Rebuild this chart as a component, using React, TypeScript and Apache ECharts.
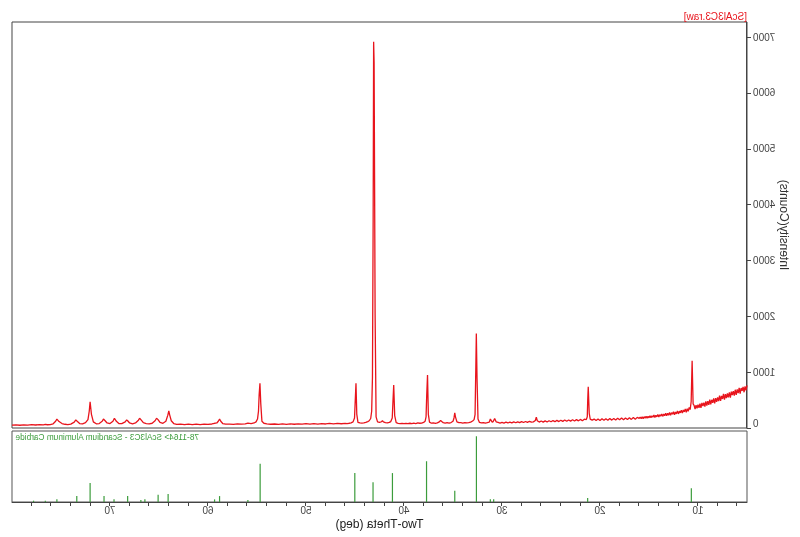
import React, { useEffect, useRef } from "react";
import * as echarts from "echarts";

// ---- measured pattern (2θ in degrees, intensity in counts) ----
const lowAngleStart = 5.0;
const lowAngleStep = 0.1;
const lowAngleCounts = [
  765, 675, 745, 640, 735, 665, 715, 615, 720, 625,
  690, 595, 685, 580, 660, 590, 650, 545, 640, 550,
  620, 535, 605, 510, 610, 520, 575, 485, 580, 480,
  550, 470, 535, 440, 530, 450, 505, 425, 510, 415,
  480, 400, 478, 382, 455, 392, 448, 362, 438, 362,
  418, 352, 410, 340, 405, 430, 1205, 470, 330, 368,
  300, 345, 282, 342, 288, 322, 266, 320, 272, 302,
  252, 307, 253, 288, 238, 292, 246, 274, 230, 277,
  228, 264, 218, 264, 220, 250, 208, 252, 210, 238,
  198, 240, 200, 228, 190, 232, 193, 218, 182, 220,
  183, 210, 174, 212, 176, 202, 168, 202, 168, 194,
  172,
];

const midAngleScan: [number, number][] = [
  [16.2, 190], [16.4, 158], [16.6, 187], [16.8, 154], [17.0, 184], [17.2, 152], [17.4, 180], [17.6, 148],
  [17.8, 178], [18.0, 146], [18.2, 175], [18.4, 144], [18.6, 172], [18.8, 141], [19.0, 170], [19.2, 139],
  [19.4, 167], [19.6, 137], [19.8, 165], [20.0, 135], [20.2, 162], [20.4, 133], [20.6, 160], [20.8, 140],
  [21.0, 160], [21.1, 260], [21.2, 740], [21.25, 520], [21.3, 200], [21.4, 150], [21.6, 157], [21.8, 130],
  [22.0, 154], [22.2, 128], [22.4, 150], [22.6, 125], [22.8, 147], [23.0, 123], [23.2, 144], [23.4, 120],
  [23.6, 142], [23.8, 118], [24.0, 139], [24.2, 115], [24.4, 136], [24.6, 113], [24.8, 133], [25.0, 111],
  [25.2, 130], [25.4, 108], [25.6, 128], [25.8, 106], [26.0, 125], [26.2, 106], [26.4, 130], [26.5, 195],
  [26.6, 135], [26.8, 110], [27.0, 104], [27.2, 120], [27.4, 100], [27.6, 117], [27.8, 98], [28.0, 114],
  [28.2, 96], [28.4, 111], [28.6, 94], [28.8, 109], [29.0, 92], [29.2, 106], [29.4, 90], [29.6, 104],
  [29.8, 89], [30.0, 101], [30.2, 88], [30.4, 99], [30.6, 110], [30.75, 170], [30.9, 115], [31.0, 105],
  [31.19, 160], [31.3, 105], [31.5, 95], [31.7, 88], [31.9, 98], [32.1, 90], [32.3, 100], [32.45, 160],
  [32.55, 900], [32.62, 1690], [32.68, 1000], [32.75, 240], [32.85, 150], [33.0, 125], [33.2, 105], [33.4, 95],
  [33.6, 92], [33.8, 98], [34.0, 88], [34.2, 95], [34.4, 95], [34.6, 110], [34.75, 200], [34.82, 270],
  [34.9, 180], [35.0, 120], [35.2, 98], [35.4, 88], [35.6, 95], [35.8, 86], [36.0, 96], [36.15, 115],
  [36.27, 135], [36.4, 110], [36.6, 92], [36.8, 84], [37.0, 93], [37.2, 86], [37.4, 105], [37.52, 250],
  [37.6, 950], [37.68, 600], [37.75, 200], [37.85, 120], [38.0, 100], [38.2, 88], [38.4, 85], [38.6, 90],
  [38.8, 80], [39.0, 87], [39.2, 78], [39.4, 85], [39.6, 78], [39.8, 84], [40.0, 77], [40.2, 83],
  [40.4, 78], [40.6, 84], [40.8, 95], [40.95, 220], [41.05, 770], [41.12, 500], [41.2, 180], [41.35, 115],
  [41.5, 100], [41.7, 90], [41.9, 96], [42.1, 110], [42.2, 130], [42.3, 112], [42.5, 100], [42.7, 110],
  [42.85, 200], [42.95, 2060], [43.05, 6530], [43.1, 6915], [43.15, 3670], [43.22, 900], [43.3, 300], [43.4, 170],
  [43.55, 130], [43.7, 115], [43.9, 100], [44.1, 90], [44.3, 88], [44.5, 90], [44.7, 100], [44.82, 250],
  [44.9, 800], [44.97, 520], [45.05, 180], [45.2, 110], [45.4, 92], [45.6, 85], [45.8, 80], [46.0, 82],
];

const highAngleScan: [number, number][] = [
  [46.4, 76], [46.8, 83], [47.2, 74], [47.6, 81], [48.0, 72], [48.4, 79], [48.8, 71], [49.2, 78],
  [49.6, 69], [50.0, 77], [50.4, 69], [50.8, 75], [51.2, 67], [51.6, 74], [52.0, 66], [52.4, 73],
  [52.8, 66], [53.2, 72], [53.6, 67], [54.0, 74], [54.3, 85], [54.5, 120], [54.62, 450], [54.7, 800],
  [54.78, 600], [54.85, 300], [54.95, 160], [55.1, 110], [55.3, 90], [55.6, 80], [55.93, 88], [56.2, 75],
  [56.6, 69], [57.0, 74], [57.4, 65], [57.8, 71], [58.2, 68], [58.5, 80], [58.7, 120], [58.82, 160],
  [58.95, 120], [59.1, 90], [59.33, 85], [59.6, 72], [60.0, 65], [60.4, 71], [60.8, 62], [61.2, 69],
  [61.6, 61], [62.0, 68], [62.4, 62], [62.8, 69], [63.2, 66], [63.5, 80], [63.75, 130], [63.92, 240],
  [64.0, 305], [64.1, 230], [64.3, 120], [64.6, 85], [64.9, 100], [65.1, 150], [65.25, 175], [65.4, 130],
  [65.7, 85], [66.0, 75], [66.3, 80], [66.6, 95], [66.85, 150], [66.98, 175], [67.1, 140], [67.4, 90],
  [67.7, 75], [68.0, 90], [68.2, 130], [68.3, 145], [68.45, 110], [68.8, 78], [69.1, 80], [69.35, 120],
  [69.55, 175], [69.7, 120], [70.0, 80], [70.3, 90], [70.5, 130], [70.67, 160], [70.8, 120], [71.1, 80],
  [71.4, 75], [71.7, 110], [71.9, 250], [72.03, 470], [72.12, 300], [72.25, 150], [72.5, 95], [72.8, 75],
  [73.1, 80], [73.35, 120], [73.49, 145], [73.65, 105], [74.0, 70], [74.3, 61], [74.6, 67], [74.9, 80],
  [75.2, 115], [75.42, 160], [75.55, 120], [75.8, 75], [76.1, 61], [76.4, 58], [76.6, 65], [76.8, 56],
  [77.2, 61], [77.6, 54], [78.0, 59], [78.4, 51], [78.8, 57], [79.2, 49], [79.6, 55], [80.0, 50],
];

// ---- reference card 78-1164 (ScAl3C3) stick pattern, relative intensity % ----
const stickTwoTheta = [
  10.68, 21.26, 30.85, 31.19, 32.61, 34.82, 37.7, 41.18, 43.16, 45.02, 54.68, 55.93, 58.82,
  59.33, 64.07, 65.09, 66.44, 66.85, 68.2, 69.59, 70.61, 72.03, 73.39, 75.42, 76.6, 77.8,
];
const stickIntensity = [
  21, 6, 4, 4, 100, 17, 62, 44, 30, 44, 58, 3, 9,
  4, 12, 11, 4, 3, 9, 4, 9, 29, 9, 4, 2, 2,
];

// ---- axis ticks ----
const xLabelValues = [10, 20, 30, 40, 50, 60, 70];
const xTickValues = [
  6, 8, 10, 12, 14, 16, 18, 20, 22, 24, 26, 28, 30, 32, 34, 36, 38, 40, 42, 44, 46, 48, 50,
  52, 54, 56, 58, 60, 62, 64, 66, 68, 70, 72, 74, 76, 78,
];
const yTickValues = [0, 1000, 2000, 3000, 4000, 5000, 6000, 7000];

const FONT = "'Liberation Sans', Arial, sans-serif";

export default function App() {
  const ref = useRef<HTMLDivElement>(null);

  useEffect(() => {
    if (!ref.current) return;
    const chart = echarts.init(ref.current, null, { renderer: "svg" });

    const lowAngleScan: [number, number][] = lowAngleCounts.map((c, i) => [
      +(lowAngleStart + i * lowAngleStep).toFixed(2),
      c,
    ]);
    const pattern = [...lowAngleScan, ...midAngleScan, ...highAngleScan];
    const sticks = stickTwoTheta.map((t, i) => [t, stickIntensity[i]]);

    const xCommon = { type: "value", min: 5, max: 80, splitLine: { show: false } };
    const gridCommon = {
      left: 53, width: 735, show: true, borderWidth: 1, backgroundColor: "#fff",
      containLabel: false, outerBoundsMode: "none",
    };

    chart.setOption({
      animation: false,
      textStyle: { fontFamily: FONT },
      grid: [
        { ...gridCommon, top: 22, height: 406, borderColor: "#444" },
        { ...gridCommon, top: 431, height: 71, borderColor: "#555" },
      ],
      xAxis: [
        {
          ...xCommon, gridIndex: 0,
          axisLine: { show: false }, axisTick: { show: false }, axisLabel: { show: false },
        },
        {
          ...xCommon, gridIndex: 1,
          axisLine: { show: true, onZero: false, lineStyle: { color: "#444", width: 1 } },
          axisTick: { show: true, customValues: xTickValues, length: 4, lineStyle: { color: "#444" } },
          axisLabel: { show: true, customValues: xLabelValues, fontSize: 10, color: "#444", margin: 3, fontFamily: FONT },
          name: "Two-Theta (deg)", nameLocation: "middle", nameGap: 16, nameMoveOverlap: false,
          nameTextStyle: { fontSize: 12, color: "#222", fontFamily: FONT },
        },
      ],
      yAxis: [
        {
          gridIndex: 0, type: "value", min: 0, max: 7270,
          axisLine: { show: true, lineStyle: { color: "#444", width: 1 } },
          axisTick: { show: true, customValues: yTickValues, length: 4, lineStyle: { color: "#444" } },
          axisLabel: {
            show: true, customValues: yTickValues, fontSize: 10, color: "#444", margin: 6, fontFamily: FONT,
            verticalAlignMinLabel: "bottom",
            formatter: (v: number) => String(v),
          },
          splitLine: { show: false },
          name: "Intensity(Counts)", nameLocation: "middle", nameGap: 31, nameMoveOverlap: false,
          nameTextStyle: { fontSize: 12, color: "#333", fontFamily: FONT },
        },
        { gridIndex: 1, type: "value", min: 0, max: 108, show: false, splitLine: { show: false } },
      ],
      graphic: [
        { type: "text", left: 53, top: 11, style: { text: "[ScAl3C3.raw]", fontSize: 10, fill: "#e8141c", fontFamily: FONT } },
        { type: "text", right: 15, top: 433, style: { text: "78-1164> ScAl3C3 - Scandium Aluminum Carbide", fontSize: 8.3, fill: "#3c9c3c", fontFamily: FONT } },
      ],
      series: [
        {
          type: "line", xAxisIndex: 0, yAxisIndex: 0, data: pattern,
          showSymbol: false, symbol: "none",
          lineStyle: { color: "#e8141c", width: 1.3 }, itemStyle: { color: "#e8141c" },
        },
        {
          type: "bar", xAxisIndex: 1, yAxisIndex: 1, data: sticks, barWidth: 1.2,
          itemStyle: { color: "#3c9c3c" },
        },
      ],
    });

    return () => chart.dispose();
  }, []);

  return (
    <div
      ref={ref}
      style={{ position: "fixed", left: 0, top: 0, width: 800, height: 537, transform: "scaleX(-1)", background: "#fff" }}
    />
  );
}
